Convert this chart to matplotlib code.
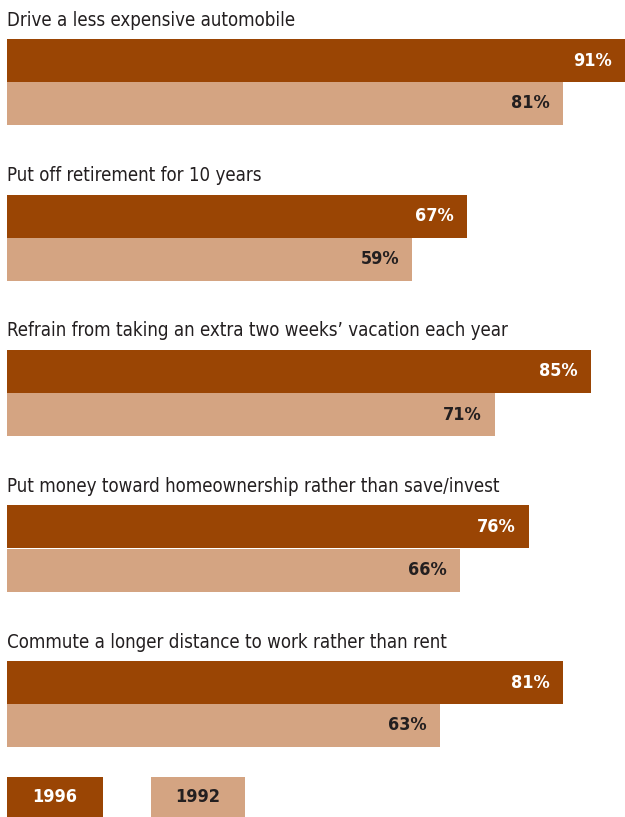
import matplotlib
matplotlib.use("Agg")
import matplotlib.pyplot as plt
from matplotlib.patches import Rectangle
from matplotlib import font_manager

categories = [
    "Drive a less expensive automobile",
    "Put off retirement for 10 years",
    "Refrain from taking an extra two weeks\u2019 vacation each year",
    "Put money toward homeownership rather than save/invest",
    "Commute a longer distance to work rather than rent",
]
values_1996 = [91, 67, 85, 76, 81]
values_1992 = [81, 59, 71, 66, 63]
series_names = ["1996", "1992"]

DARK = "#9A4504"
LIGHT = "#D4A482"
TEXT = "#231F20"

names = {f.name for f in font_manager.fontManager.ttflist}
if "Liberation Sans Narrow" in names:
    FONT, STRETCH = "Liberation Sans Narrow", "normal"
else:
    FONT, STRETCH = "DejaVu Sans", "condensed"
plt.rcParams["font.family"] = [FONT, "DejaVu Sans"]
plt.rcParams["font.stretch"] = STRETCH

W, H = 625, 817
fig = plt.figure(figsize=(W / 100, H / 100), dpi=100)
ax = fig.add_axes([7 / W, 0, 1 - 7 / W, 1])
XMAX = 90
ax.set_xlim(0, XMAX)
unit = 155.5
ax.set_ylim((H - 82) / unit, -82 / unit)
ax.axis("off")

bh = 43 / unit
for i, (cat, v6, v2) in enumerate(zip(categories, values_1996, values_1992)):
    ax.barh(i - bh / 2, v6, height=bh, color=DARK)
    ax.barh(i + bh / 2, v2, height=bh, color=LIGHT)
    ax.text(0, i - 62 / unit, cat, ha="left", va="center", fontsize=13.4, color=TEXT,
            fontstretch=STRETCH)
    ax.annotate(f"{v6}%", xy=(min(v6, XMAX), i - bh / 2),
                xytext=(-13, 0), textcoords="offset pixels", ha="right", va="center",
                fontsize=13, fontweight="bold", color="white", fontstretch=STRETCH)
    ax.annotate(f"{v2}%", xy=(min(v2, XMAX), i + bh / 2), xytext=(-13, 0),
                textcoords="offset pixels", ha="right", va="center",
                fontsize=13, fontweight="bold", color=TEXT, fontstretch=STRETCH)

# legend
for (x0, x1), name, fc, tc in zip([(7, 103), (151, 245)], series_names, [DARK, LIGHT], ["white", TEXT]):
    fig.patches.append(Rectangle((x0 / W, 0), (x1 - x0) / W, 40 / H, transform=fig.transFigure,
                                 facecolor=fc, edgecolor="none"))
    fig.text((x0 + x1) / 2 / W, 20 / H, name, ha="center", va="center", fontsize=13,
             fontweight="bold", color=tc, fontstretch=STRETCH)

fig.savefig("out.png", dpi=100)
